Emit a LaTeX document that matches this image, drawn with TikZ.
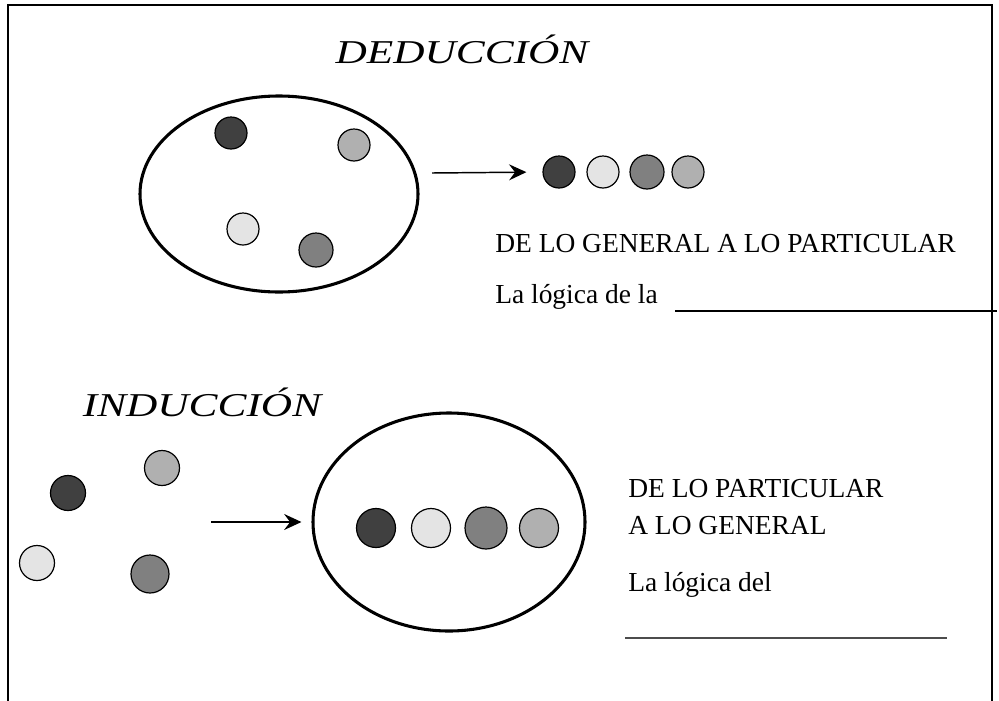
\documentclass[tikz,border=0pt]{standalone}
\usepackage{fontspec}
\setmainfont{Liberation Serif}
\usetikzlibrary{shapes.geometric,arrows.meta}
\definecolor{dotdark}{HTML}{404040}
\definecolor{dotpale}{HTML}{E4E4E4}
\definecolor{dotmid}{HTML}{808080}
\definecolor{dotlight}{HTML}{B0B0B0}
\begin{document}
\begin{tikzpicture}[x=0.75pt, y=-0.75pt]
        % Define styles
        \tikzset{
            frame/.style={line width=1.6pt},
            set/.style={ellipse, draw, line width=2.3pt, inner sep=0pt},
            dot/.style={circle, draw, line width=0.9pt, inner sep=0pt, minimum size=#1*1.5pt},
            arrow/.style={-{Stealth[length=13pt, width=12pt, inset=4.5pt]}, line width=1.1pt},
            title/.style={inner sep=0pt, anchor=base, font=\fontsize{25}{30}\selectfont\itshape},
            label/.style={inner sep=0pt, anchor=base west, font=\fontsize{20.6}{25}\selectfont},
            blank/.style={line width=1.2pt}
        }
        \useasboundingbox (0,0) rectangle (999,700);
        % Outer frame, open at the bottom
        \draw[frame] (8,702) -- (8,5) -- (992,5) -- (992,702);
        % Deduction: the whole set first
        \node[title] (ded) at (462,63) {\scalebox{1.3}[1]{DEDUCCIÓN}};
        \node[set, minimum width=278*0.75pt, minimum height=196*0.75pt] (dedset) at (279,194) {};
        \foreach \name/\x/\y/\col/\r in {da/231/133/dotdark/16, db/354/145/dotlight/16,
                                        dc/243/229/dotpale/16, dd/316/250/dotmid/17}
            \node[dot=\r, fill=\col] (\name) at (\x,\y) {};
        % Deduction: the single cases
        \foreach \name/\x/\col/\r in {ra/559/dotdark/16, rb/603/dotpale/16,
                                     rc/647/dotmid/17, rd/688/dotlight/16}
            \node[dot=\r, fill=\col] (\name) at (\x,172) {};
        \coordinate (dedfrom) at (432,173);
        \draw[arrow, shorten >=16*0.75pt] (dedfrom) -- (ra.west);
        \node[label] (gen) at (495,252) {DE LO GENERAL A LO PARTICULAR};
        \node[label] (logded) at (495,303) {La lógica de la};
        \draw[blank] (675,311) -- (997,311);
        % Induction: the single cases first
        \node[title] (ind) at (202,416) {\scalebox{1.3}[1]{INDUCCIÓN}};
        \foreach \name/\x/\y/\col/\r in {ia/68/493/dotdark/17.5, ib/162/468/dotlight/17.5,
                                        ic/37/563/dotpale/17.5, id/150/574/dotmid/19}
            \node[dot=\r, fill=\col] (\name) at (\x,\y) {};
        \node[set, minimum width=272*0.75pt, minimum height=218*0.75pt] (indset) at (449,522) {};
        \foreach \name/\x/\col/\r in {sa/376/dotdark/19.5, sb/431/dotpale/19.5,
                                     sc/486/dotmid/21, sd/539/dotlight/19.5}
            \node[dot=\r, fill=\col] (\name) at (\x,528) {};
        \coordinate (indfrom) at (211,522);
        \draw[arrow, shorten >=10*0.75pt] (indfrom) -- (indset.west);
        \node[label] (part) at (628,497) {DE LO PARTICULAR};
        \node[label] (gral) at (628,534) {A LO GENERAL};
        \node[label] (logind) at (628,591) {La lógica del};
        \draw[blank, black!70] (625,638) -- (947,638);
    \end{tikzpicture}
\end{document}
